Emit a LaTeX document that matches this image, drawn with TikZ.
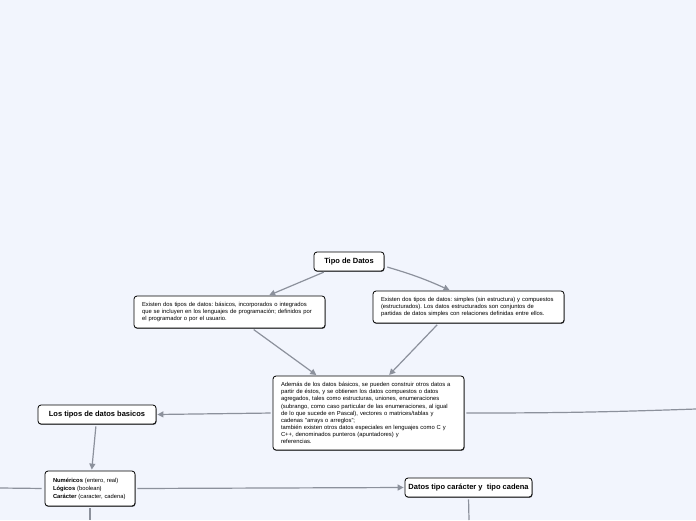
\documentclass[tikz,border=0pt]{standalone}
\usepackage{fontspec}
\setmainfont{Liberation Sans}
\usetikzlibrary{arrows.meta,calc,shadows}
\definecolor{bg}{HTML}{F2F5FD}
\definecolor{connc}{HTML}{8C919C}
\tikzset{
 box/.style={draw=black, line width=0.8pt, fill=white, rounded corners=3pt,
   drop shadow={shadow xshift=0.5pt,shadow yshift=-0.9pt,fill=black,opacity=0.6}, inner sep=0pt},
 titlebox/.style={box, font=\fontsize{7.5}{9}\selectfont\bfseries, align=center, minimum height=19pt},
 bodybox/.style={box, font=\fontsize{5.85}{7.4}\selectfont\frenchspacing, align=left, inner xsep=7pt, text width=177pt},
 arrowconn/.style={draw=connc, line width=1.2pt, -{Triangle[length=6pt,width=6pt]}, shorten <=2pt, shorten >=1pt},
 plainconn/.style={draw=connc, line width=1.2pt}
}
\begin{document}
\begin{tikzpicture}[x=1pt,y=-1pt]
\fill[bg] (0,0) rectangle (696,520);
\useasboundingbox (0,0) rectangle (696,520);

\node[titlebox, minimum width=70pt] (t) at (349,261.5) {Tipo de Datos};
\node[bodybox, minimum height=32pt] (lb) at (229.5,312) {\hspace*{1pt}Existen dos tipos de datos: básicos, incorporados o integrados\\\hspace*{1pt}que se incluyen en los lenguajes de programación; definidos por\\\hspace*{1pt}el programador o por el usuario.};
\node[bodybox, minimum height=32pt] (rb) at (468.5,307) {\hspace*{1pt}Existen dos tipos de datos: simples (sin estructura) y compuestos\\\hspace*{1pt}(estructurados). Los datos estructurados son conjuntos de\\\hspace*{1pt}partidas de datos simples con relaciones definidas entre ellos.};
\node[bodybox, minimum height=74pt, font=\fontsize{5.85}{7.1}\selectfont\frenchspacing] (c) at (368.5,413) {\hspace*{1pt}Además de los datos básicos, se pueden construir otros datos a\\\hspace*{1pt}partir de éstos, y se obtienen los datos compuestos o datos\\\hspace*{1pt}agregados, tales como estructuras, uniones, enumeraciones\\\hspace*{1pt}(subrango, como caso particular de las enumeraciones, al igual\\\hspace*{1pt}de lo que sucede en Pascal), vectores o matrices/tablas y\\\hspace*{1pt}cadenas "arrays o arreglos";\\\hspace*{1pt}también existen otros datos especiales en lenguajes como C y\\\hspace*{1pt}C++, denominados punteros (apuntadores) y\\\hspace*{1pt}referencias.};
\node[titlebox, minimum width=118pt] (lt) at (97,414.5) {Los tipos de datos basicos};
\node[box, font=\fontsize{5.8}{8}\selectfont, align=left, inner xsep=8pt, text width=74pt, minimum height=35pt] (n) at (90,488.5) {\textbf{Numéricos} (entero, real)\\\textbf{Lógicos} (boolean)\\\textbf{Carácter} (caracter, cadena)};
\node[titlebox, minimum width=127pt] (d) at (468.5,487.5) {Datos tipo carácter y~ tipo cadena};

\coordinate (re) at (696,409);
\coordinate (le) at (0,488);
\coordinate (nb) at (90,520);
\coordinate (db) at (469,520);

\draw[arrowconn] (t) -- (lb);
\draw[arrowconn] ($(t.east)+(1,5)$) to[bend left=4] ($(rb.north)+(-18,0)$);
\draw[arrowconn] (lb) -- (c);
\draw[arrowconn] ($(rb.south)+(-30,0)$) -- ($(c.north)+(20,0)$);
\draw[arrowconn] (c.west) -- (lt.east);
\draw[plainconn, shorten <=2pt] (c.east) to[bend right=1] (re);
\draw[arrowconn] (lt) -- (n);
\draw[plainconn, shorten >=3pt] (le) -- (n.west);
\draw[arrowconn] (n.east) -- (d.west);
\draw[plainconn, shorten <=2pt] (n.south) -- (nb);
\draw[plainconn, shorten <=2pt] (d.south) -- (db);
\end{tikzpicture}
\end{document}
